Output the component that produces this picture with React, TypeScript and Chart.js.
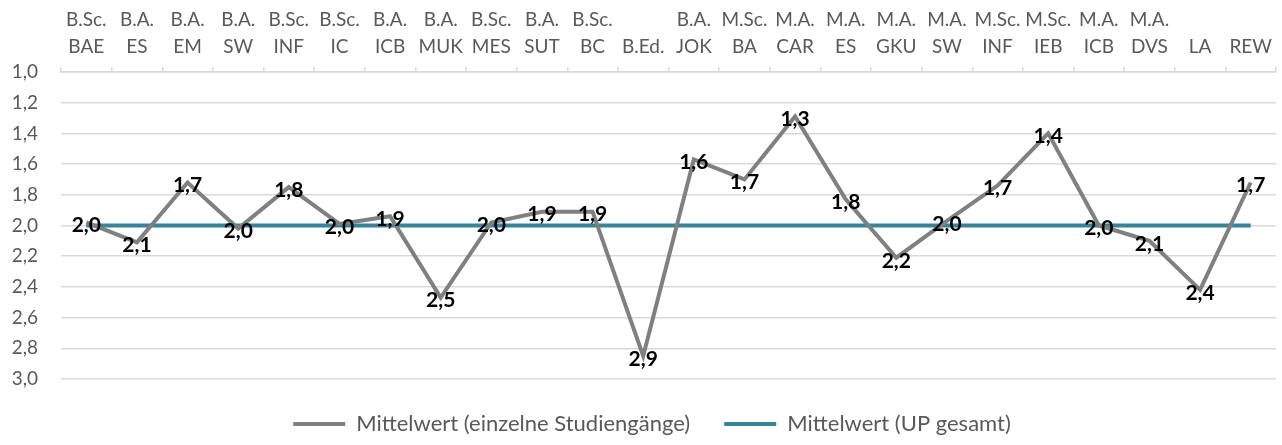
import React, { useEffect, useRef } from "react";
import { Chart, registerables } from "chart.js";

Chart.register(...registerables);

const categories: string[][] = [
  ["B.Sc.", "BAE"], ["B.A.", "ES"], ["B.A.", "EM"], ["B.A.", "SW"], ["B.Sc.", "INF"],
  ["B.Sc.", "IC"], ["B.A.", "ICB"], ["B.A.", "MUK"], ["B.Sc.", "MES"], ["B.A.", "SUT"],
  ["B.Sc.", "BC"], ["", "B.Ed."], ["B.A.", "JOK"], ["M.Sc.", "BA"], ["M.A.", "CAR"],
  ["M.A.", "ES"], ["M.A.", "GKU"], ["M.A.", "SW"], ["M.Sc.", "INF"], ["M.Sc.", "IEB"],
  ["M.A.", "ICB"], ["M.A.", "DVS"], ["", "LA"], ["", "REW"],
];

const studiengaenge: number[] = [
  1.98, 2.11, 1.72, 2.02, 1.75, 1.99, 1.94, 2.47, 1.98, 1.91, 1.91, 2.85,
  1.57, 1.7, 1.29, 1.83, 2.21, 1.97, 1.74, 1.4, 2.0, 2.1, 2.42, 1.72,
];

const upGesamt: number[] = [
  2.0, 2.0, 2.0, 2.0, 2.0, 2.0, 2.0, 2.0, 2.0, 2.0, 2.0, 2.0,
  2.0, 2.0, 2.0, 2.0, 2.0, 2.0, 2.0, 2.0, 2.0, 2.0, 2.0, 2.0,
];

const seriesNames: string[] = ["Mittelwert (einzelne Studiengänge)", "Mittelwert (UP gesamt)"];

const yMin = 1.0;
const yMax = 3.0;
const yStep = 0.2;

const GRAY = "#808080";
const TEAL = "#31859c";
const TEXT = "#595959";
const GRID = "#d9d9d9";
const FONT = "Lato, 'Open Sans', sans-serif";

const fmt = (v: number) => v.toFixed(1).replace(".", ",");

const dataLabelPlugin = {
  id: "dataLabels",
  afterLayout(chart: any) {
    if (chart.legend) chart.legend.left = chart.legend.left + 28;
  },
  afterDatasetsDraw(chart: any) {
    const meta = chart.getDatasetMeta(0);
    const ds = chart.data.datasets[0];
    const ctx = chart.ctx;
    ctx.save();
    ctx.font = `bold 21px ${FONT}`;
    ctx.fillStyle = "#000000";
    ctx.textAlign = "center";
    ctx.textBaseline = "middle";
    meta.data.forEach((pt: any, i: number) => {
      ctx.fillText(fmt(ds.data[i]), pt.x, pt.y + 3);
    });
    ctx.restore();
  },
};

export default function App() {
  const canvasRef = useRef<HTMLCanvasElement | null>(null);

  useEffect(() => {
    if (!canvasRef.current) return;
    const chart = new Chart(canvasRef.current, {
      type: "line",
      data: {
        labels: categories,
        datasets: [
          {
            label: seriesNames[0],
            data: studiengaenge,
            borderColor: GRAY,
            backgroundColor: GRAY,
            borderWidth: 4,
            pointRadius: 0,
            tension: 0,
          },
          {
            label: seriesNames[1],
            data: upGesamt,
            borderColor: TEAL,
            backgroundColor: TEAL,
            borderWidth: 4,
            pointRadius: 0,
            tension: 0,
          },
        ],
      },
      options: {
        animation: false,
        responsive: true,
        maintainAspectRatio: false,
        layout: { padding: { left: 0, right: 6, top: 0, bottom: 0 } },
        scales: {
          x: {
            type: "category",
            position: "top",
            offset: true,
            grid: {
              offset: true,
              drawOnChartArea: false,
              drawTicks: true,
              tickLength: 5,
              color: GRID,
              lineWidth: 1.5,
            },
            border: { display: true, color: GRID, width: 1.5 },
            ticks: {
              color: TEXT,
              font: { family: FONT, size: 19, lineHeight: 1.4 },
              padding: 7,
              maxRotation: 0,
              minRotation: 0,
              autoSkip: false,
            },
            afterFit: (scale: any) => {
              scale.height = 72;
            },
          },
          y: {
            type: "linear",
            reverse: true,
            min: yMin,
            max: yMax,
            grid: { color: GRID, lineWidth: 1.5, drawTicks: false },
            border: { display: false },
            ticks: {
              stepSize: yStep,
              color: TEXT,
              font: { family: FONT, size: 19 },
              padding: 23,
              callback: (v: any) => fmt(Number(v)),
            },
            afterFit: (scale: any) => {
              scale.width = 61;
            },
          },
        },
        plugins: {
          tooltip: { enabled: false },
          legend: {
            position: "bottom",
            labels: {
              color: TEXT,
              font: { family: FONT, size: 22 },
              boxWidth: 52,
              boxHeight: 4,
              padding: 34,
              generateLabels: (c: any) =>
                Chart.defaults.plugins.legend.labels
                  .generateLabels(c)
                  .map((l: any) => ({ ...l, lineWidth: 0, fillStyle: l.strokeStyle })),
            },
          },
        },
      },
      plugins: [dataLabelPlugin],
    });
    return () => chart.destroy();
  }, []);

  return (
    <div style={{ position: "absolute", left: 0, top: 0, width: 1282, height: 445, background: "#ffffff" }}>
      <canvas ref={canvasRef} />
    </div>
  );
}
